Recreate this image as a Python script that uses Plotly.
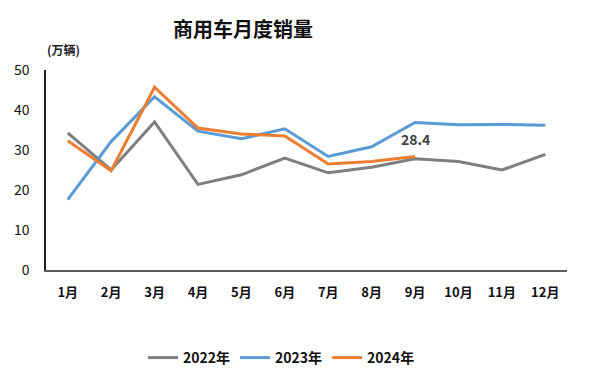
import plotly.graph_objects as go

months = ["1月", "2月", "3月", "4月", "5月", "6月", "7月", "8月", "9月", "10月", "11月", "12月"]
sales_2022 = [34.3, 25.0, 37.0, 21.4, 23.8, 28.0, 24.3, 25.7, 27.8, 27.1, 25.0, 28.9]
sales_2023 = [17.6, 32.1, 43.3, 34.7, 32.8, 35.3, 28.4, 30.8, 36.9, 36.3, 36.4, 36.2]
sales_2024 = [32.3, 24.8, 45.7, 35.5, 34.0, 33.5, 26.5, 27.1, 28.4]
y_ticks = [0, 10, 20, 30, 40, 50]

FONT = "Noto Sans CJK SC"

fig = go.Figure()
for name, vals, color in [("2022年", sales_2022, "#7f7f7f"),
                          ("2023年", sales_2023, "#5b9bd5"),
                          ("2024年", sales_2024, "#ed7d31")]:
    fig.add_trace(go.Scatter(x=months[:len(vals)], y=vals, mode="lines", name="<b>" + name + "</b>",
                             line=dict(color=color, width=3)))

fig.add_annotation(x=months[8], y=sales_2024[8], text="<b>28.4</b>", showarrow=False,
                   yshift=17, font=dict(family=FONT, size=14, color="#404040"))
fig.add_annotation(xref="paper", yref="paper", x=0.033, y=1.1, xanchor="center", yanchor="middle",
                   text="<b>(万辆)</b>", showarrow=False,
                   font=dict(family=FONT, size=12, color="#222222"))

fig.update_layout(
    width=600, height=377,
    margin=dict(l=46, r=33, t=70, b=107, autoexpand=False),
    paper_bgcolor="white", plot_bgcolor="white",
    title=dict(text="<b>商用车月度销量</b>", x=0.405, xanchor="center", y=0.92, yanchor="middle",
               font=dict(family=FONT, size=20, color="#111111")),
    showlegend=True,
    legend=dict(orientation="h", x=0.452, xanchor="center", y=-0.44, yanchor="middle",
                font=dict(family=FONT, size=14, color="#111111"), itemwidth=30,
                traceorder="normal"),
    xaxis=dict(type="category", range=[-0.5, 11.5], showgrid=False, showline=True,
               linecolor="#595959", linewidth=1.5,
               ticks="", tickfont=dict(family=FONT, size=13, color="#111111"),
               tickprefix="<b>", ticksuffix="</b>", ticklabelstandoff=10),
    yaxis=dict(range=[0, 50], tickvals=y_ticks, showgrid=False, showline=True,
               linecolor="#222222", linewidth=1.5, ticks="", zeroline=False,
               tickfont=dict(family=FONT, size=14, color="#111111"),
               tickprefix="<b>", ticksuffix="</b>", ticklabelstandoff=12),
)

fig.write_html("out.html", config={"displayModeBar": False},
               post_script="document.body.style.margin='0';document.body.style.overflow='hidden';")
